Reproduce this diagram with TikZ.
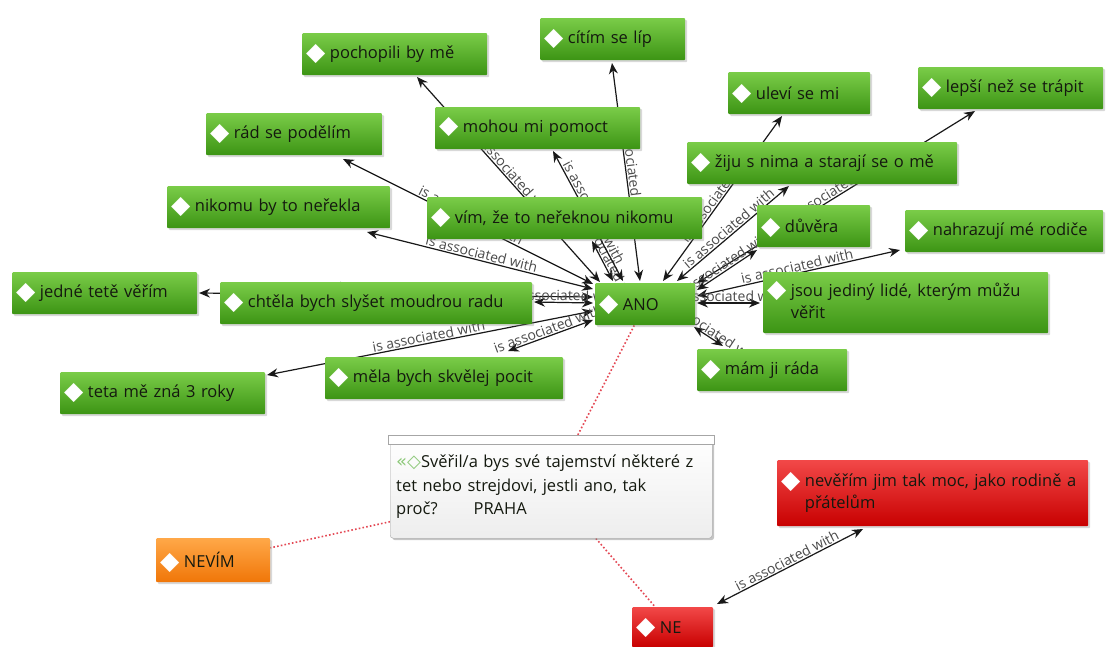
\documentclass[tikz,border=0pt]{standalone}
\usepackage{fontspec}
\setmainfont{Open Sans}
\newfontfamily\djv{DejaVu Sans}
\usetikzlibrary{arrows.meta,calc,shadows,backgrounds}
\definecolor{gtop}{RGB}{122,204,72}
\definecolor{gbot}{RGB}{60,148,20}
\definecolor{rtop}{RGB}{242,72,72}
\definecolor{rbot}{RGB}{200,0,0}
\definecolor{otop}{RGB}{255,168,72}
\definecolor{obot}{RGB}{240,118,8}
\definecolor{lblc}{RGB}{75,75,75}
\definecolor{dotc}{RGB}{228,72,84}
\definecolor{qgreen}{RGB}{140,200,120}
\definecolor{txtc}{RGB}{20,25,15}
\newcommand\dia{\smash{\raisebox{-1.5pt}{\color{white}\djv\fontsize{25}{25}\selectfont ◆}}\hspace{4.5pt}}
\begin{document}
\begin{tikzpicture}[x=1pt,y=-1pt,
  box/.style={anchor=north west, inner xsep=4pt, inner ysep=0pt, minimum height=42pt,
    align=left, font=\fontsize{16.5}{22}\selectfont, text=txtc, rounded corners=1pt,
    top color=gtop, bottom color=gbot,
    drop shadow={shadow xshift=2pt, shadow yshift=-2pt, opacity=0.3}},
  rbox/.style={box, top color=rtop, bottom color=rbot},
  obox/.style={box, top color=otop, bottom color=obot},
  qbox/.style={anchor=north west, inner xsep=6pt, inner ysep=0pt, align=left,
    font=\fontsize{16.5}{23.5}\selectfont, text=txtc, rounded corners=3pt,
    draw=gray!70, top color=white, bottom color=gray!14,
    drop shadow={shadow xshift=2pt, shadow yshift=-2pt, opacity=0.45}},
  conn/.style={draw=black!90, line width=1.2pt, <->, >={Stealth[length=11pt,width=9pt]}},
  lbl/.style={midway, sloped, above, inner sep=1pt, font=\fontsize{14}{14}\selectfont, text=lblc},
  dotline/.style={draw=dotc, line width=1.6pt, dash pattern=on 1.6pt off 2.2pt}
]
\useasboundingbox (0,0) rectangle (1109,646);

% nodes
\node[box, text width=177pt] (poch) at (302,33) {\dia pochopili by mě};
\node[box, text width=137pt] (citim) at (540,18) {\dia cítím se líp};
\node[box, text width=197pt] (mohou) at (435,107) {\dia mohou mi pomoct};
\node[box, text width=168pt] (rad) at (206,113) {\dia rád se podělím};
\node[box, text width=134pt] (ulevi) at (728,72) {\dia uleví se mi};
\node[box, text width=177pt] (lepsi) at (918,67) {\dia lepší než se trápit};
\node[box, text width=262pt] (ziju) at (687,142) {\dia žiju s nima a starají se o mě};
\node[box, text width=215pt] (nikomu) at (167,186) {\dia nikomu by to neřekla};
\node[box, text width=267pt] (vim) at (427,197) {\dia vím, že to neřeknou nikomu};
\node[box, text width=105pt] (duvera) at (757,205) {\dia důvěra};
\node[box, text width=190pt] (nahraz) at (905,210) {\dia nahrazují mé rodiče};
\node[box, text width=177pt] (jedne) at (12,272) {\dia jedné tetě věřím};
\node[box, text width=304pt] (chtela) at (220,282) {\dia chtěla bych slyšet moudrou radu};
\node[box, text width=92pt] (ano) at (595,283) {\dia ANO};
\node[box, text width=277pt, minimum height=61pt] (jsou) at (763,272)
  {\dia\begin{tabular}[t]{@{}l@{}}jsou jediný lidé, kterým můžu\\věřit\end{tabular}};
\node[box, text width=197pt] (teta) at (60,372) {\dia teta mě zná 3 roky};
\node[box, text width=230pt] (mela) at (325,357) {\dia měla bych skvělej pocit};
\node[box, text width=142pt] (mam) at (697,349) {\dia mám ji ráda};
\node[qbox, text width=310pt, minimum height=103pt] (q) at (390,435)
  {{\djv\fontsize{18}{18}\selectfont\color{qgreen}«◇}Svěřil/a bys své tajemství některé z\\tet nebo strejdovi, jestli ano, tak\\proč?\hspace*{36pt}PRAHA};
\draw[draw=gray!70, fill=white] ([xshift=-2pt]q.north west) rectangle ([xshift=2pt,yshift=-9pt]q.north east);
\node[rbox, text width=303pt, minimum height=66pt] (nev) at (777,460)
  {\dia\begin{tabular}[t]{@{}l@{}}nevěřím jim tak moc, jako rodině a\\přátelům\end{tabular}};
\node[obox, text width=106pt, minimum height=44pt] (nevim) at (156,538) {\dia NEVÍM};
\node[rbox, text width=73pt, minimum height=40pt] (ne) at (632,607) {\dia NE};

% connectors
\begin{pgfonlayer}{background}
\fill[white] (0,0) rectangle (1109,646);
\draw[conn] ($(ano.north west)+(-2,1)$) -- node[lbl]{is associated with} ($(rad.north west)+(137,46)$);
\draw[conn] ($(ano.north west)+(-2,6)$) -- node[lbl]{is associated with} ($(nikomu.north west)+(200,46)$);
\draw[conn] ($(ano.north west)+(-2,14)$) -- node[lbl]{is associated with} ($(jedne.north west)+(187,21)$);
\draw[conn] ($(ano.north west)+(-2,20)$) -- node[lbl]{is associated with} ($(chtela.north west)+(314,20)$);
\draw[conn] ($(ano.north west)+(-2,28)$) -- node[lbl]{is associated with} ($(teta.north west)+(207,3)$);
\draw[conn] ($(ano.north west)+(-2,37)$) -- node[lbl]{is associated with} ($(mela.north west)+(183,-6)$);
\draw[conn] ($(ano.north west)+(5,-1)$) -- node[lbl]{is associated with} ($(poch.north west)+(115,44)$);
\draw[conn] ($(ano.north west)+(18,-2)$) -- node[lbl]{is associated with} ($(vim.north west)+(165,44)$);
\draw[conn] ($(ano.north west)+(28,-2)$) -- node[lbl]{is associated with} ($(mohou.north west)+(118,44)$);
\draw[conn] ($(ano.north west)+(45,-2)$) -- node[lbl]{is associated with} ($(citim.north west)+(72,45)$);
\draw[conn] ($(ano.north west)+(68,-2)$) -- node[lbl]{is associated with} ($(ulevi.north west)+(54,44)$);
\draw[conn] ($(ano.north west)+(82,-2)$) -- node[lbl]{is associated with} ($(ziju.north west)+(102,44)$);
\draw[conn] ($(ano.north west)+(102,0)$) -- node[lbl]{is associated with} ($(lepsi.north west)+(57,44)$);
\draw[conn] ($(ano.north west)+(102,7)$) -- node[lbl]{is associated with} ($(duvera.north west)+(0,45)$);
\draw[conn] ($(ano.north west)+(102,13)$) -- node[lbl]{is associated with} ($(nahraz.north west)+(-5,40)$);
\draw[conn] ($(ano.north west)+(102,20)$) -- node[lbl]{is associated with} ($(jsou.north west)+(-3,31)$);
\draw[conn] ($(ano.north west)+(99,44)$) -- node[lbl]{is associated with} ($(mam.north west)+(26,-3)$);
\draw[conn] ($(ne.north west)+(85,-3)$) -- node[lbl]{is associated with} ($(nev.north west)+(86,69)$);
\draw[dotline] (ano) -- (q);
\draw[dotline] (q) -- (nevim);
\draw[dotline] (q) -- (ne);
\end{pgfonlayer}
\end{tikzpicture}
\end{document}
